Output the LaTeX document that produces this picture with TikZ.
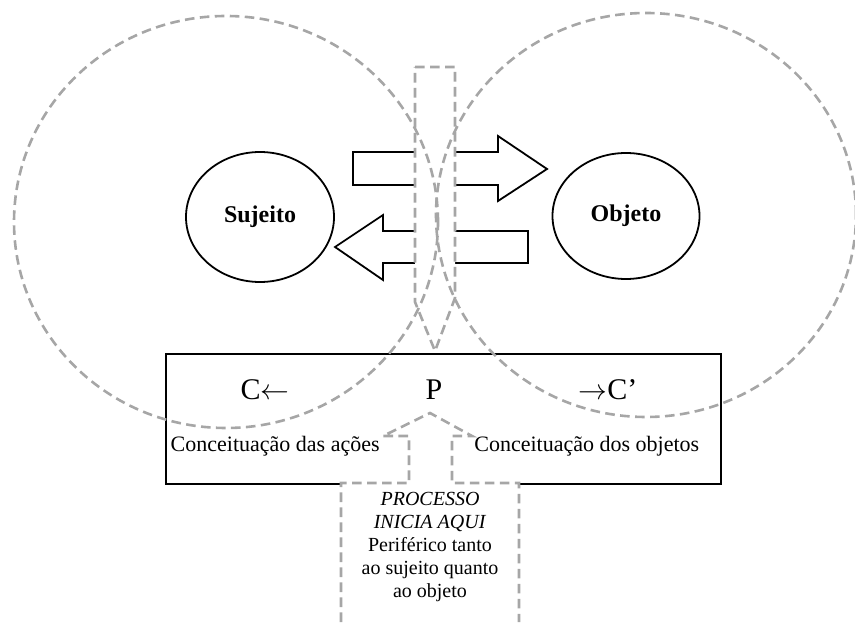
\documentclass[tikz,border=0pt]{standalone}
\usepackage{fontspec}
\setmainfont{Liberation Serif}
\usetikzlibrary{shapes.geometric}
\definecolor{tracejado}{RGB}{166,166,166}

\begin{document}
\begin{tikzpicture}[
  x=0.5pt, y=-0.5pt,
  font=\fontsize{11}{13}\selectfont,
  linha/.style={draw, line width=0.9pt},
  polo/.style={linha, ellipse, inner sep=0pt,
    font=\fontsize{12}{14}\selectfont\bfseries},
  campo/.style={draw=tracejado, line width=1.3pt,
    dash pattern=on 4.8pt off 2.7pt, ellipse, inner sep=0pt},
  passagem/.style={draw=tracejado, fill=white, line width=1.3pt,
    dash pattern=on 4.8pt off 2.7pt, line join=miter},
  seta/.style={linha, fill=white, line join=miter},
  grande/.style={font=\fontsize{15}{17}\selectfont}
]
  \useasboundingbox (0,0) rectangle (855,624);

  % Conceptualisation box
  \node[linha, anchor=north west, minimum width=277.5pt,
    minimum height=65pt, inner sep=0pt] (quadro) at (165,353) {};

  % Subject and object
  \node[polo, minimum width=74pt, minimum height=65pt] (sujeito) at (260,217) {Sujeito};
  \node[polo, minimum width=73.5pt, minimum height=63pt] (objeto) at (626,216) {Objeto};

  % Exchange arrows
  \draw[seta] (353,152) -- (498,152) -- (498,136) -- (547,169)
    -- (498,201) -- (498,185) -- (353,185) -- cycle;
  \draw[seta] (528,231) -- (383,231) -- (383,215) -- (335,247)
    -- (383,280) -- (383,263) -- (528,263) -- cycle;

  % Periphery passages
  \draw[passagem] (415,67) -- (455,67) -- (455,298) -- (435,351)
    -- (415,302) -- cycle;
  \draw[passagem] (341,622) -- (341,483) -- (409,483) -- (409,436)
    -- (383,436) -- (430,413) -- (472,436) -- (452,436) -- (452,483)
    -- (519,483) -- (519,622);

  % Fields of subject and object
  \node[campo, minimum width=212pt, minimum height=206pt] (campoS) at (226,222) {};
  \node[campo, minimum width=210pt, minimum height=202pt] (campoO) at (646,215) {};

  % Labels
  \node[grande] (ce) at (265,390) {C$\leftarrow$};
  \node[grande] (p) at (434,390) {P};
  \node[grande] (celinha) at (608,390) {$\rightarrow$C’};
  \node[anchor=east, inner sep=0pt] (acoes) at (380,446) {Conceituação das ações};
  \node[anchor=west, inner sep=0pt] (objetos) at (474,446) {Conceituação dos objetos};
  \node[align=center, font=\fontsize{10}{11.5}\selectfont] (inicio) at (430,547) {%
    \textit{PROCESSO}\\
    \textit{INICIA AQUI}\\
    Periférico tanto\\
    ao sujeito quanto\\
    ao objeto};
\end{tikzpicture}
\end{document}
